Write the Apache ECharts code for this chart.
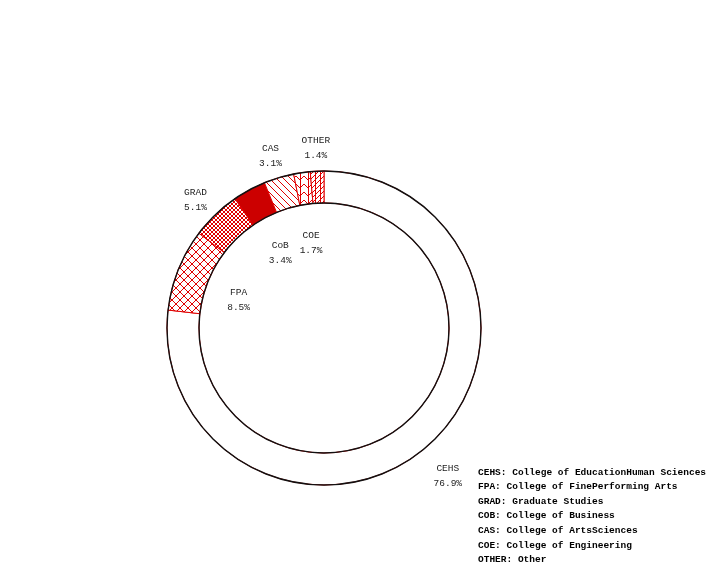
<!DOCTYPE html>
<html>
<head>
<meta charset="utf-8">
<script src="https://cdn.jsdelivr.net/npm/echarts@6/dist/echarts.min.js"></script>
<style>
  html, body { margin: 0; padding: 0; background: #fff; }
  #chart { width: 720px; height: 576px; }
</style>
</head>
<body>
<div id="chart"></div>
<script>
// college shares (%), clockwise from 12 o'clock
const categories = ['CEHS', 'FPA', 'GRAD', 'CoB', 'CAS', 'COE', 'OTHER']
const shares = [76.9, 8.5, 5.1, 3.4, 3.1, 1.7, 1.4]
const legendLines = [
    'CEHS: College of EducationHuman Sciences',
    'FPA: College of FinePerforming Arts',
    'GRAD: Graduate Studies',
    'COB: College of Business',
    'CAS: College of ArtsSciences',
    'COE: College of Engineering',
    'OTHER: Other'
]

const RED = '#e00000'

// small canvas tiles used as hatch fills
function hatch(w, h, draw) {
    let c = document.createElement('canvas')
    c.width = w
    c.height = h
    let g = c.getContext('2d')
    g.fillStyle = '#ffffff'
    g.fillRect(0, 0, w, h)
    g.strokeStyle = RED
    g.lineWidth = 1
    g.beginPath()
    draw(g, w, h)
    g.stroke()
    return { image: c, repeat: 'repeat' }
}

const fillOf = {
    CEHS: '#ffffff',
    FPA: hatch(8, 8, (g, w, h) => { g.moveTo(0, 0); g.lineTo(w, h); g.moveTo(w, 0); g.lineTo(0, h) }),
    GRAD: hatch(4, 4, (g, w, h) => { g.moveTo(0, 0); g.lineTo(w, h); g.moveTo(w, 0); g.lineTo(0, h) }),
    CoB: '#cc0000',
    CAS: hatch(7, 7, (g, w, h) => { g.moveTo(0, 0); g.lineTo(w, h) }),
    COE: hatch(8, 8, (g, w, h) => { g.moveTo(4.5, 0); g.lineTo(4.5, h); g.moveTo(0, 0); g.lineTo(4, 4); g.lineTo(8, 0) }),
    OTHER: hatch(5, 5, (g, w, h) => { g.moveTo(0.5, 0); g.lineTo(0.5, h); g.moveTo(0, h); g.lineTo(w, 0) })
}

const CENTER = [324, 328]
// a blank first line pushes each two-line label down a little
const labelFont = {
    fontFamily: 'Liberation Mono',
    fontSize: 9.5,
    lineHeight: 15,
    color: '#222',
    rich: {
        s: { lineHeight: 12, fontSize: 1 },
        t: { lineHeight: 18, fontSize: 1 }
    }
}

let sliceData = categories.map((name, i) => ({
    name: name,
    value: shares[i],
    itemStyle: { color: fillOf[name] }
}))

// labels alternate: even slices outside the ring, odd slices inside it
let labelData = (outside) => categories.map((name, i) => {
    let show = (i % 2 === 0) === outside
    let item = { name: name, value: shares[i], label: { show: show } }
    if (name === 'CEHS') item.label.formatter = '{t| }\n{b}\n{c}%'
    return item
})

let labelPie = (radius, outside) => ({
    type: 'pie',
    center: CENTER,
    radius: radius,
    silent: true,
    avoidLabelOverlap: false,
    itemStyle: { color: 'transparent', borderWidth: 0 },
    label: Object.assign({ position: 'inside', formatter: '{s| }\n{b}\n{c}%' }, labelFont),
    labelLine: { show: false },
    emphasis: { disabled: true },
    data: labelData(outside)
})

let option = {
    animation: false,
    backgroundColor: '#ffffff',
    title: {
        left: 478,
        top: 465,
        padding: 0,
        text: legendLines.join('\n'),
        textStyle: {
            fontFamily: 'Liberation Mono',
            fontWeight: 'bold',
            fontSize: 9.5,
            lineHeight: 14.6,
            color: '#000'
        }
    },
    series: [
        {
            type: 'pie',
            center: CENTER,
            radius: [125, 157],
            startAngle: 90,
            clockwise: true,
            silent: true,
            label: { show: false },
            labelLine: { show: false },
            itemStyle: { borderColor: RED, borderWidth: 1 },
            emphasis: { disabled: true },
            data: sliceData
        },
        {
            // black outline of the ring
            type: 'pie',
            center: CENTER,
            radius: [125, 157],
            silent: true,
            z: 5,
            label: { show: false },
            labelLine: { show: false },
            itemStyle: { color: 'transparent', borderColor: '#111', borderWidth: 1.4 },
            emphasis: { disabled: true },
            data: [{ name: 'ring', value: 1 }]
        },
        labelPie([166, 200], true),
        labelPie([60, 118], false)
    ]
}

let chart = echarts.init(document.getElementById('chart'), null, { renderer: 'canvas' })
chart.setOption(option)
</script>
</body>
</html>
